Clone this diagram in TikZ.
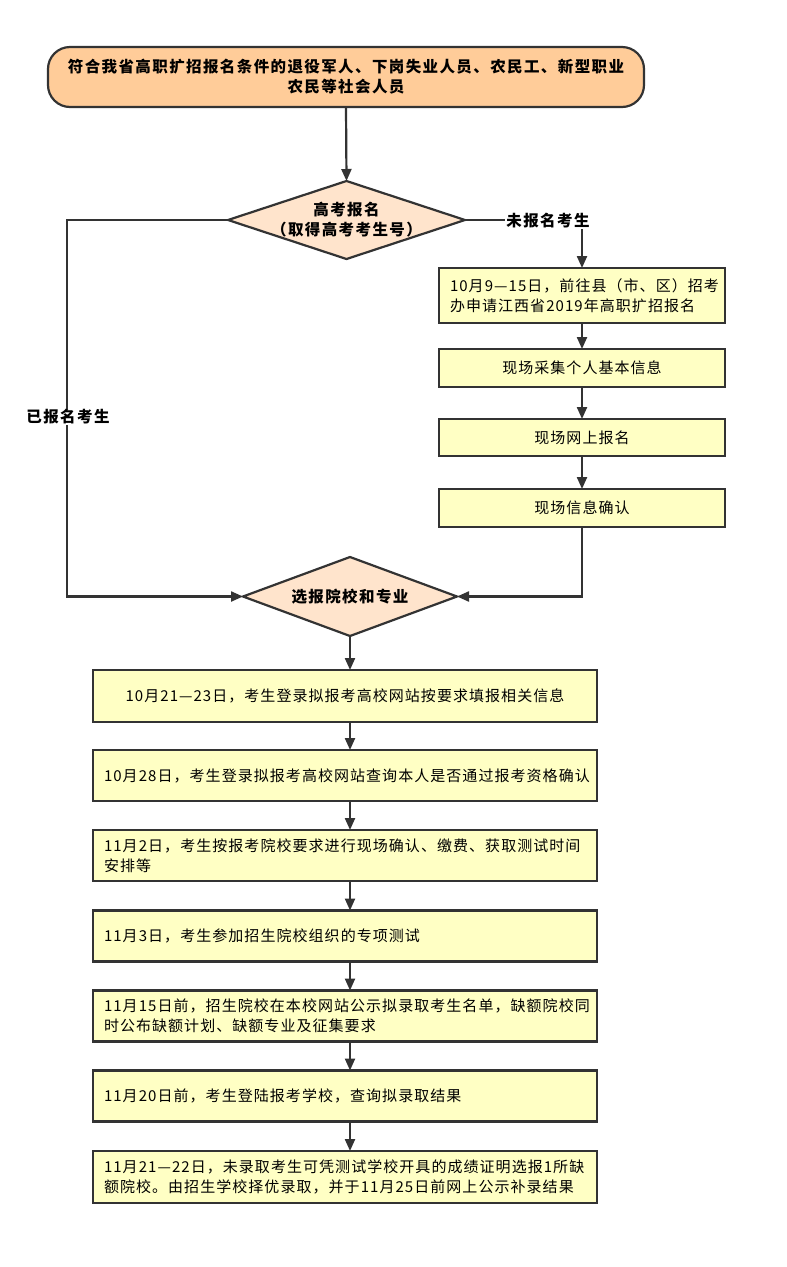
\documentclass[tikz,border=0pt]{standalone}
\usepackage{fontspec}
\setmainfont{Noto Sans CJK SC}[LetterSpace=7, BoldFeatures={LetterSpace=9}]
\usetikzlibrary{shapes.geometric,arrows.meta}
\definecolor{linec}{HTML}{333333}
\definecolor{topfill}{HTML}{FFCC99}
\definecolor{diafill}{HTML}{FFE4CC}
\definecolor{boxfill}{HTML}{FFFFC4}
\tikzset{
  base/.style={draw=linec, line width=2.2pt, inner sep=0pt, outer sep=0pt},
  topbox/.style={base, fill=topfill, rounded corners=22pt, minimum width=596pt, minimum height=60pt,
     align=center, font=\fontsize{15.5pt}{20pt}\selectfont\bfseries},
  dia/.style={base, diamond, fill=diafill},
  diatext/.style={align=center, font=\fontsize{15.5pt}{20pt}\selectfont\bfseries, inner sep=0pt},
  rbox/.style={base, fill=boxfill, minimum width=286pt, inner xsep=11pt, text width=264pt,
     font=\fontsize{15pt}{19.5pt}\selectfont},
  lbox/.style={base, fill=boxfill, minimum width=504pt, minimum height=51pt, inner xsep=11pt, text width=482pt,
     font=\fontsize{15pt}{19.5pt}\selectfont},
  arr/.style={draw=linec, line width=2.2pt, -{Triangle[length=12pt,width=10pt]}},
  lbl/.style={fill=white, inner sep=1pt, font=\fontsize{15.5pt}{18pt}\selectfont\bfseries},
}
\begin{document}
\begin{tikzpicture}[x=1pt,y=-1pt]
\useasboundingbox (0,0) rectangle (787,1267);
\fill[white] (0,0) rectangle (787,1267);

\node[topbox] (top) at (346,77) {符合我省高职扩招报名条件的退役军人、下岗失业人员、农民工、新型职业\\农民等社会人员};

\node[dia, minimum width=237pt, minimum height=78pt] (d1) at (346.5,220) {};
\node[diatext] (d1t) at (d1.center) {高考报名\\（取得高考考生号）};

\node[rbox, minimum height=55pt, align=left] (r1) at (582,295.5) {\mbox{10月9—15日，前往县（市、区）招考}\\\mbox{办申请江西省2019年高职扩招报名}};
\node[rbox, minimum height=38pt, align=center] (r2) at (582,368) {现场采集个人基本信息};
\node[rbox, minimum height=37pt, align=center] (r3) at (582,437.5) {现场网上报名};
\node[rbox, minimum height=38pt, align=center] (r4) at (582,508) {现场信息确认};

\node[dia, minimum width=214pt, minimum height=79pt] (d2) at (350,596.5) {};
\node[diatext] (d2t) at (d2.center) {选报院校和专业};

\node[lbox, minimum height=52pt, align=center] (a) at (345,696) {10月21—23日，考生登录拟报考高校网站按要求填报相关信息};
\node[lbox, align=center] (b) at (345,775.5) {10月28日，考生登录拟报考高校网站查询本人是否通过报考资格确认};
\node[lbox, align=left] (c) at (345,855.5) {11月2日，考生按报考院校要求进行现场确认、缴费、获取测试时间\\安排等};
\node[lbox, align=left] (d) at (345,936) {11月3日，考生参加招生院校组织的专项测试};
\node[lbox, align=left] (e) at (345,1016) {11月15日前，招生院校在本校网站公示拟录取考生名单，缺额院校同\\时公布缺额计划、缺额专业及征集要求};
\node[lbox, align=left] (f) at (345,1096) {11月20日前，考生登陆报考学校，查询拟录取结果};
\node[lbox, minimum height=52pt, align=left] (g) at (345,1177) {11月21—22日，未录取考生可凭测试学校开具的成绩证明选报1所缺\\额院校。由招生学校择优录取，并于11月25日前网上公示补录结果};

% connectors
\draw[arr] (top.south) -- (d1.north);
\coordinate (lc) at (67,220);
\draw[arr] (d1.west) -- (lc) |- (d2.west);
\node[lbl] (l1) at (68,417) {已报名考生};
\draw[arr] (d1.east) -| (r1.north);
\node[lbl] (l2) at (548,220.5) {未报名考生};
\draw[arr] (r1) -- (r2);
\draw[arr] (r2) -- (r3);
\draw[arr] (r3) -- (r4);
\draw[arr] (r4.south) |- (d2.east);
\draw[arr] (d2.south) -- (a.north -| d2.south);
\draw[arr] (a.south -| d2.south) -- (b.north -| d2.south);
\draw[arr] (b.south -| d2.south) -- (c.north -| d2.south);
\draw[arr] (c.south -| d2.south) -- (d.north -| d2.south);
\draw[arr] (d.south -| d2.south) -- (e.north -| d2.south);
\draw[arr] (e.south -| d2.south) -- (f.north -| d2.south);
\draw[arr] (f.south -| d2.south) -- (g.north -| d2.south);
\end{tikzpicture}
\end{document}
